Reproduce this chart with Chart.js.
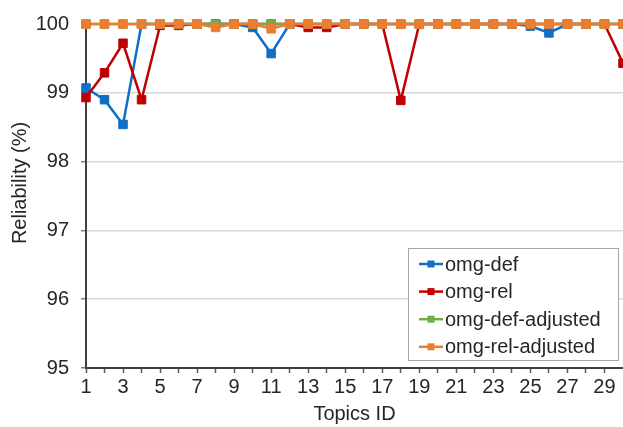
<!DOCTYPE html>
<html><head><meta charset="utf-8">
<script src="https://cdn.jsdelivr.net/npm/chart.js@4/dist/chart.umd.min.js"></script>
<style>html,body{margin:0;padding:0;background:#fff}#wrap{position:relative;width:623px;height:427px}</style>
</head><body><div id="wrap"><canvas id="c" width="623" height="427"></canvas></div>
<script>
const topics = [1,2,3,4,5,6,7,8,9,10,11,12,13,14,15,16,17,18,19,20,21,22,23,24,25,26,27,28,29,30];
const xTickValues = [1,2,3,4,5,6,7,8,9,10,11,12,13,14,15,16,17,18,19,20,21,22,23,24,25,26,27,28,29];
const yTickValues = [95,96,97,98,99,100];
const seriesNames = ['omg-def','omg-rel','omg-def-adjusted','omg-rel-adjusted'];
const omgDef         = [99.07,98.90,98.54,100,100,100,100,100,100,99.95,99.57,100,100,100,100,100,100,100,100,100,100,100,100,100,99.97,99.87,100,100,100,100];
const omgRel         = [98.93,99.29,99.72,98.90,99.98,99.98,100,100,100,100,100,100,99.95,99.95,100,100,100,98.89,100,100,100,100,100,100,100,100,100,100,100,99.43];
const omgDefAdjusted = [100,100,100,100,100,100,100,100,100,100,100,100,100,100,100,100,100,100,100,100,100,100,100,100,100,100,100,100,100,100];
const omgRelAdjusted = [100,100,100,100,100,100,100,99.95,100,100,99.93,100,100,100,100,100,100,100,100,100,100,100,100,100,100,100,100,100,100,100];
const xTitle = 'Topics ID';
const yTitle = 'Reliability (%)';

const colors = ['#0F6FC6','#C00000','#70AD47','#ED7D31'];
const FONT = '"Liberation Sans", Arial, sans-serif';
const TEXT = '#262626';

function pts(arr){ return topics.map((t,i)=>({x:t,y:arr[i]})); }
const allSeries = [omgDef, omgRel, omgDefAdjusted, omgRelAdjusted];
const datasets = allSeries.map((arr,i)=>({
  label: seriesNames[i],
  data: pts(arr),
  borderColor: colors[i],
  backgroundColor: colors[i],
  borderWidth: 2.5,
  pointStyle: 'rect',
  pointRadius: 6,
  pointBorderWidth: 1,
  pointBorderColor: colors[i],
  pointBackgroundColor: colors[i],
  tension: 0,
  clip: false,
  order: 4 - i
}));

const overlay = {
  id: 'overlay',
  afterDraw(chart){
    const ctx = chart.ctx;
    ctx.save();
    ctx.fillStyle = TEXT;
    ctx.font = '20px ' + FONT;
    ctx.textAlign = 'center';
    ctx.textBaseline = 'middle';
    ctx.fillText(xTitle, (chart.chartArea.left + chart.chartArea.right)/2, 414);
    ctx.save();
    ctx.translate(20.5, 183);
    ctx.rotate(-Math.PI/2);
    ctx.fillText(yTitle, 0, 0);
    ctx.restore();
    const bx = 408.5, by = 248.5, bw = 210, bh = 112;
    ctx.fillStyle = '#fff';
    ctx.fillRect(bx, by, bw, bh);
    ctx.strokeStyle = '#a6a6a6';
    ctx.lineWidth = 1;
    ctx.strokeRect(bx, by, bw, bh);
    chart.data.datasets.forEach((ds,i)=>{
      const y = 264 + i*27.6;
      ctx.strokeStyle = ds.borderColor;
      ctx.lineWidth = 2.5;
      ctx.beginPath(); ctx.moveTo(419, y); ctx.lineTo(443, y); ctx.stroke();
      ctx.fillStyle = ds.borderColor;
      ctx.fillRect(427.5, y-3.5, 7, 7);
      ctx.fillStyle = TEXT;
      ctx.textAlign = 'left';
      ctx.textBaseline = 'middle';
      ctx.font = '20px ' + FONT;
      ctx.fillText(ds.label, 445, y+1);
    });
    ctx.restore();
  }
};

new Chart(document.getElementById('c'), {
  type: 'line',
  data: { datasets },
  plugins: [overlay],
  options: {
    responsive: false,
    animation: false,
    devicePixelRatio: 1,
    layout: { autoPadding: false, padding: { top: 23, left: 0, right: 0, bottom: 0 } },
    plugins: { legend: { display: false }, tooltip: { enabled: false } },
    scales: {
      x: {
        type: 'linear', min: 1, max: 30,
        afterBuildTicks: s => { s.ticks = xTickValues.map(v=>({value:v})); },
        afterFit: s => { s.height = 59; s.paddingLeft = 0; s.paddingRight = 0; },
        ticks: {
          autoSkip: false, maxRotation: 0, padding: 2,
          color: TEXT, font: { family: FONT, size: 20 },
          callback: v => (v % 2 === 1 ? String(v) : '')
        },
        grid: { drawOnChartArea: false, drawTicks: true, tickLength: 5, tickColor: '#595959', tickWidth: 1.5 },
        border: { display: true, color: '#404040', width: 2 }
      },
      y: {
        min: 95, max: 100,
        afterBuildTicks: s => { s.ticks = yTickValues.map(v=>({value:v})); },
        afterFit: s => { s.width = 86; },
        ticks: { padding: 12, color: TEXT, font: { family: FONT, size: 20 } },
        grid: {
          color: c => (c.tick && c.tick.value === 95 ? 'rgba(0,0,0,0)' : '#d9d9d9'),
          lineWidth: 1.5, tickLength: 5, tickColor: '#7f7f7f', tickWidth: 1.5
        },
        border: { display: true, color: '#404040', width: 2 }
      }
    }
  }
});
</script></body></html>
